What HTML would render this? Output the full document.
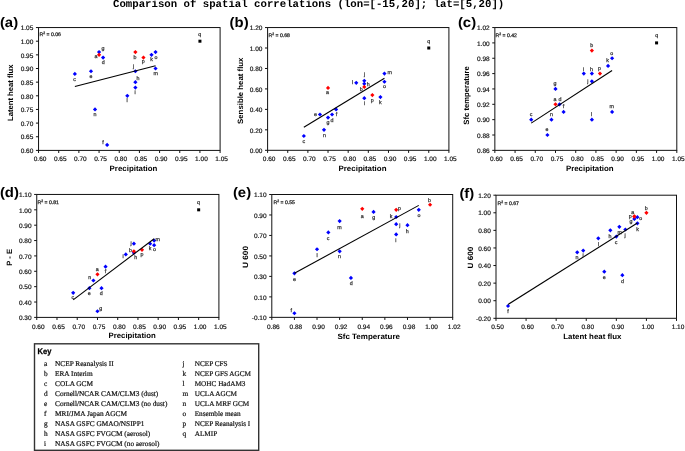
<!DOCTYPE html>
<html><head><meta charset="utf-8"><title>Comparison of spatial correlations</title>
<style>html,body{margin:0;padding:0;background:#fff;width:685px;height:451px;overflow:hidden;}
svg{display:block;font-family:"Liberation Sans", sans-serif;will-change:transform;text-rendering:geometricPrecision;}</style></head>
<body>
<svg width="685" height="451" viewBox="0 0 685 451">
<rect width="685" height="451" fill="#fff"/>
<text x="113" y="7.2" font-family='"Liberation Mono", monospace' font-weight="bold" font-size="10.7" fill="#000">Comparison of spatial correlations (lon=[-15,20]; lat=[5,20])</text>
<g><text transform="translate(-0.1,27.2) scale(1.08,1)" font-size="13.8" font-weight="bold" fill="#000" font-family='"Liberation Sans", sans-serif'>(a)</text><rect x="38.55" y="27.55" width="181.55" height="122.85" fill="none" stroke="#111" stroke-width="1"/><line x1="35.95" y1="150.40" x2="38.55" y2="150.40" stroke="#111" stroke-width="1"/><text x="33.35" y="153.10" text-anchor="end" font-size="6.5" fill="#111" stroke="#111" stroke-width="0.18" font-family='"Liberation Sans", sans-serif'>0.60</text><line x1="35.95" y1="136.75" x2="38.55" y2="136.75" stroke="#111" stroke-width="1"/><text x="33.35" y="139.45" text-anchor="end" font-size="6.5" fill="#111" stroke="#111" stroke-width="0.18" font-family='"Liberation Sans", sans-serif'>0.65</text><line x1="35.95" y1="123.10" x2="38.55" y2="123.10" stroke="#111" stroke-width="1"/><text x="33.35" y="125.80" text-anchor="end" font-size="6.5" fill="#111" stroke="#111" stroke-width="0.18" font-family='"Liberation Sans", sans-serif'>0.70</text><line x1="35.95" y1="109.45" x2="38.55" y2="109.45" stroke="#111" stroke-width="1"/><text x="33.35" y="112.15" text-anchor="end" font-size="6.5" fill="#111" stroke="#111" stroke-width="0.18" font-family='"Liberation Sans", sans-serif'>0.75</text><line x1="35.95" y1="95.80" x2="38.55" y2="95.80" stroke="#111" stroke-width="1"/><text x="33.35" y="98.50" text-anchor="end" font-size="6.5" fill="#111" stroke="#111" stroke-width="0.18" font-family='"Liberation Sans", sans-serif'>0.80</text><line x1="35.95" y1="82.15" x2="38.55" y2="82.15" stroke="#111" stroke-width="1"/><text x="33.35" y="84.85" text-anchor="end" font-size="6.5" fill="#111" stroke="#111" stroke-width="0.18" font-family='"Liberation Sans", sans-serif'>0.85</text><line x1="35.95" y1="68.50" x2="38.55" y2="68.50" stroke="#111" stroke-width="1"/><text x="33.35" y="71.20" text-anchor="end" font-size="6.5" fill="#111" stroke="#111" stroke-width="0.18" font-family='"Liberation Sans", sans-serif'>0.90</text><line x1="35.95" y1="54.85" x2="38.55" y2="54.85" stroke="#111" stroke-width="1"/><text x="33.35" y="57.55" text-anchor="end" font-size="6.5" fill="#111" stroke="#111" stroke-width="0.18" font-family='"Liberation Sans", sans-serif'>0.95</text><line x1="35.95" y1="41.20" x2="38.55" y2="41.20" stroke="#111" stroke-width="1"/><text x="33.35" y="43.90" text-anchor="end" font-size="6.5" fill="#111" stroke="#111" stroke-width="0.18" font-family='"Liberation Sans", sans-serif'>1.00</text><line x1="35.95" y1="27.55" x2="38.55" y2="27.55" stroke="#111" stroke-width="1"/><text x="33.35" y="30.25" text-anchor="end" font-size="6.5" fill="#111" stroke="#111" stroke-width="0.18" font-family='"Liberation Sans", sans-serif'>1.05</text><line x1="38.55" y1="150.4" x2="38.55" y2="153.00" stroke="#111" stroke-width="1"/><text x="40.05" y="161.00" text-anchor="middle" font-size="6.5" fill="#111" stroke="#111" stroke-width="0.18" font-family='"Liberation Sans", sans-serif'>0.60</text><line x1="58.72" y1="150.4" x2="58.72" y2="153.00" stroke="#111" stroke-width="1"/><text x="60.22" y="161.00" text-anchor="middle" font-size="6.5" fill="#111" stroke="#111" stroke-width="0.18" font-family='"Liberation Sans", sans-serif'>0.65</text><line x1="78.89" y1="150.4" x2="78.89" y2="153.00" stroke="#111" stroke-width="1"/><text x="80.39" y="161.00" text-anchor="middle" font-size="6.5" fill="#111" stroke="#111" stroke-width="0.18" font-family='"Liberation Sans", sans-serif'>0.70</text><line x1="99.07" y1="150.4" x2="99.07" y2="153.00" stroke="#111" stroke-width="1"/><text x="100.57" y="161.00" text-anchor="middle" font-size="6.5" fill="#111" stroke="#111" stroke-width="0.18" font-family='"Liberation Sans", sans-serif'>0.75</text><line x1="119.24" y1="150.4" x2="119.24" y2="153.00" stroke="#111" stroke-width="1"/><text x="120.74" y="161.00" text-anchor="middle" font-size="6.5" fill="#111" stroke="#111" stroke-width="0.18" font-family='"Liberation Sans", sans-serif'>0.80</text><line x1="139.41" y1="150.4" x2="139.41" y2="153.00" stroke="#111" stroke-width="1"/><text x="140.91" y="161.00" text-anchor="middle" font-size="6.5" fill="#111" stroke="#111" stroke-width="0.18" font-family='"Liberation Sans", sans-serif'>0.85</text><line x1="159.58" y1="150.4" x2="159.58" y2="153.00" stroke="#111" stroke-width="1"/><text x="161.08" y="161.00" text-anchor="middle" font-size="6.5" fill="#111" stroke="#111" stroke-width="0.18" font-family='"Liberation Sans", sans-serif'>0.90</text><line x1="179.76" y1="150.4" x2="179.76" y2="153.00" stroke="#111" stroke-width="1"/><text x="181.26" y="161.00" text-anchor="middle" font-size="6.5" fill="#111" stroke="#111" stroke-width="0.18" font-family='"Liberation Sans", sans-serif'>0.95</text><line x1="199.93" y1="150.4" x2="199.93" y2="153.00" stroke="#111" stroke-width="1"/><text x="201.43" y="161.00" text-anchor="middle" font-size="6.5" fill="#111" stroke="#111" stroke-width="0.18" font-family='"Liberation Sans", sans-serif'>1.00</text><line x1="220.10" y1="150.4" x2="220.10" y2="153.00" stroke="#111" stroke-width="1"/><text x="221.60" y="161.00" text-anchor="middle" font-size="6.5" fill="#111" stroke="#111" stroke-width="0.18" font-family='"Liberation Sans", sans-serif'>1.05</text><text x="109.60" y="170.8" textLength="47.8" lengthAdjust="spacingAndGlyphs" font-size="7.7" font-weight="bold" fill="#000" font-family='"Liberation Sans", sans-serif'>Precipitation</text><text transform="translate(13.0,92.75) rotate(-90)" x="-28.20" textLength="56.4" lengthAdjust="spacingAndGlyphs" font-size="7.7" font-weight="bold" fill="#000" font-family='"Liberation Sans", sans-serif'>Latent heat flux</text><text x="39.60" y="36.00" font-size="5.1" fill="#222" stroke="#222" stroke-width="0.25" font-family='"Liberation Sans", sans-serif'>R<tspan font-size="3.4" dy="-1.8">2</tspan><tspan dy="1.8"> = 0.06</tspan></text><path d="M74.86 71.86L76.96 73.96L74.86 76.06L72.76 73.96Z" fill="#0000ff"/><path d="M91.00 69.13L93.10 71.23L91.00 73.33L88.90 71.23Z" fill="#0000ff"/><path d="M99.07 50.02L101.17 52.12L99.07 54.22L96.97 52.12Z" fill="#0000ff"/><path d="M103.10 55.48L105.20 57.58L103.10 59.68L101.00 57.58Z" fill="#0000ff"/><path d="M95.03 107.35L97.13 109.45L95.03 111.55L92.93 109.45Z" fill="#0000ff"/><path d="M107.14 142.84L109.24 144.94L107.14 147.04L105.04 144.94Z" fill="#0000ff"/><path d="M127.31 93.70L129.41 95.80L127.31 97.90L125.21 95.80Z" fill="#0000ff"/><path d="M135.38 85.51L137.48 87.61L135.38 89.71L133.28 87.61Z" fill="#0000ff"/><path d="M135.38 80.05L137.48 82.15L135.38 84.25L133.28 82.15Z" fill="#0000ff"/><path d="M135.38 69.13L137.48 71.23L135.38 73.33L133.28 71.23Z" fill="#0000ff"/><path d="M151.51 52.75L153.61 54.85L151.51 56.95L149.41 54.85Z" fill="#0000ff"/><path d="M155.55 50.02L157.65 52.12L155.55 54.22L153.45 52.12Z" fill="#0000ff"/><path d="M155.55 66.40L157.65 68.50L155.55 70.60L153.45 68.50Z" fill="#0000ff"/><path d="M99.07 52.75L101.17 54.85L99.07 56.95L96.97 54.85Z" fill="#ff0000"/><path d="M135.38 50.02L137.48 52.12L135.38 54.22L133.28 52.12Z" fill="#ff0000"/><path d="M143.45 55.48L145.55 57.58L143.45 59.68L141.35 57.58Z" fill="#ff0000"/><rect x="198.43" y="39.70" width="3" height="3" fill="#000"/><line x1="74.86" y1="86.52" x2="155.55" y2="65.77" stroke="#000" stroke-width="1.1"/><text x="74.60" y="80.60" text-anchor="middle" font-size="5.3" fill="#333" stroke="#333" stroke-width="0.25" font-family='"Liberation Sans", sans-serif'>c</text><text x="90.90" y="77.50" text-anchor="middle" font-size="5.3" fill="#333" stroke="#333" stroke-width="0.25" font-family='"Liberation Sans", sans-serif'>e</text><text x="102.90" y="50.20" text-anchor="middle" font-size="5.3" fill="#333" stroke="#333" stroke-width="0.25" font-family='"Liberation Sans", sans-serif'>g</text><text x="103.30" y="64.10" text-anchor="middle" font-size="5.3" fill="#333" stroke="#333" stroke-width="0.25" font-family='"Liberation Sans", sans-serif'>d</text><text x="95.00" y="115.80" text-anchor="middle" font-size="5.3" fill="#333" stroke="#333" stroke-width="0.25" font-family='"Liberation Sans", sans-serif'>n</text><text x="102.90" y="144.40" text-anchor="middle" font-size="5.3" fill="#333" stroke="#333" stroke-width="0.25" font-family='"Liberation Sans", sans-serif'>f</text><text x="127.20" y="102.30" text-anchor="middle" font-size="5.3" fill="#333" stroke="#333" stroke-width="0.25" font-family='"Liberation Sans", sans-serif'>l</text><text x="135.10" y="93.90" text-anchor="middle" font-size="5.3" fill="#333" stroke="#333" stroke-width="0.25" font-family='"Liberation Sans", sans-serif'>i</text><text x="137.90" y="80.20" text-anchor="middle" font-size="5.3" fill="#333" stroke="#333" stroke-width="0.25" font-family='"Liberation Sans", sans-serif'>h</text><text x="133.50" y="67.80" text-anchor="middle" font-size="5.3" fill="#333" stroke="#333" stroke-width="0.25" font-family='"Liberation Sans", sans-serif'>j</text><text x="151.50" y="61.00" text-anchor="middle" font-size="5.3" fill="#333" stroke="#333" stroke-width="0.25" font-family='"Liberation Sans", sans-serif'>k</text><text x="156.00" y="58.80" text-anchor="middle" font-size="5.3" fill="#333" stroke="#333" stroke-width="0.25" font-family='"Liberation Sans", sans-serif'>o</text><text x="155.80" y="74.80" text-anchor="middle" font-size="5.3" fill="#333" stroke="#333" stroke-width="0.25" font-family='"Liberation Sans", sans-serif'>m</text><text x="96.00" y="57.60" text-anchor="middle" font-size="5.3" fill="#333" stroke="#333" stroke-width="0.25" font-family='"Liberation Sans", sans-serif'>a</text><text x="135.10" y="59.30" text-anchor="middle" font-size="5.3" fill="#333" stroke="#333" stroke-width="0.25" font-family='"Liberation Sans", sans-serif'>b</text><text x="143.30" y="62.90" text-anchor="middle" font-size="5.3" fill="#333" stroke="#333" stroke-width="0.25" font-family='"Liberation Sans", sans-serif'>p</text><text x="199.80" y="35.60" text-anchor="middle" font-size="5.3" fill="#333" stroke="#333" stroke-width="0.25" font-family='"Liberation Sans", sans-serif'>q</text></g>
<g><text transform="translate(229.6,27.2) scale(1.08,1)" font-size="13.8" font-weight="bold" fill="#000" font-family='"Liberation Sans", sans-serif'>(b)</text><rect x="267.6" y="27.55" width="181.30" height="122.75" fill="none" stroke="#111" stroke-width="1"/><line x1="265.00" y1="150.30" x2="267.6" y2="150.30" stroke="#111" stroke-width="1"/><text x="262.40" y="153.00" text-anchor="end" font-size="6.5" fill="#111" stroke="#111" stroke-width="0.18" font-family='"Liberation Sans", sans-serif'>0.00</text><line x1="265.00" y1="129.84" x2="267.6" y2="129.84" stroke="#111" stroke-width="1"/><text x="262.40" y="132.54" text-anchor="end" font-size="6.5" fill="#111" stroke="#111" stroke-width="0.18" font-family='"Liberation Sans", sans-serif'>0.20</text><line x1="265.00" y1="109.38" x2="267.6" y2="109.38" stroke="#111" stroke-width="1"/><text x="262.40" y="112.08" text-anchor="end" font-size="6.5" fill="#111" stroke="#111" stroke-width="0.18" font-family='"Liberation Sans", sans-serif'>0.40</text><line x1="265.00" y1="88.92" x2="267.6" y2="88.92" stroke="#111" stroke-width="1"/><text x="262.40" y="91.62" text-anchor="end" font-size="6.5" fill="#111" stroke="#111" stroke-width="0.18" font-family='"Liberation Sans", sans-serif'>0.60</text><line x1="265.00" y1="68.47" x2="267.6" y2="68.47" stroke="#111" stroke-width="1"/><text x="262.40" y="71.17" text-anchor="end" font-size="6.5" fill="#111" stroke="#111" stroke-width="0.18" font-family='"Liberation Sans", sans-serif'>0.80</text><line x1="265.00" y1="48.01" x2="267.6" y2="48.01" stroke="#111" stroke-width="1"/><text x="262.40" y="50.71" text-anchor="end" font-size="6.5" fill="#111" stroke="#111" stroke-width="0.18" font-family='"Liberation Sans", sans-serif'>1.00</text><line x1="265.00" y1="27.55" x2="267.6" y2="27.55" stroke="#111" stroke-width="1"/><text x="262.40" y="30.25" text-anchor="end" font-size="6.5" fill="#111" stroke="#111" stroke-width="0.18" font-family='"Liberation Sans", sans-serif'>1.20</text><line x1="267.60" y1="150.3" x2="267.60" y2="152.90" stroke="#111" stroke-width="1"/><text x="269.10" y="161.00" text-anchor="middle" font-size="6.5" fill="#111" stroke="#111" stroke-width="0.18" font-family='"Liberation Sans", sans-serif'>0.60</text><line x1="287.74" y1="150.3" x2="287.74" y2="152.90" stroke="#111" stroke-width="1"/><text x="289.24" y="161.00" text-anchor="middle" font-size="6.5" fill="#111" stroke="#111" stroke-width="0.18" font-family='"Liberation Sans", sans-serif'>0.65</text><line x1="307.89" y1="150.3" x2="307.89" y2="152.90" stroke="#111" stroke-width="1"/><text x="309.39" y="161.00" text-anchor="middle" font-size="6.5" fill="#111" stroke="#111" stroke-width="0.18" font-family='"Liberation Sans", sans-serif'>0.70</text><line x1="328.03" y1="150.3" x2="328.03" y2="152.90" stroke="#111" stroke-width="1"/><text x="329.53" y="161.00" text-anchor="middle" font-size="6.5" fill="#111" stroke="#111" stroke-width="0.18" font-family='"Liberation Sans", sans-serif'>0.75</text><line x1="348.18" y1="150.3" x2="348.18" y2="152.90" stroke="#111" stroke-width="1"/><text x="349.68" y="161.00" text-anchor="middle" font-size="6.5" fill="#111" stroke="#111" stroke-width="0.18" font-family='"Liberation Sans", sans-serif'>0.80</text><line x1="368.32" y1="150.3" x2="368.32" y2="152.90" stroke="#111" stroke-width="1"/><text x="369.82" y="161.00" text-anchor="middle" font-size="6.5" fill="#111" stroke="#111" stroke-width="0.18" font-family='"Liberation Sans", sans-serif'>0.85</text><line x1="388.47" y1="150.3" x2="388.47" y2="152.90" stroke="#111" stroke-width="1"/><text x="389.97" y="161.00" text-anchor="middle" font-size="6.5" fill="#111" stroke="#111" stroke-width="0.18" font-family='"Liberation Sans", sans-serif'>0.90</text><line x1="408.61" y1="150.3" x2="408.61" y2="152.90" stroke="#111" stroke-width="1"/><text x="410.11" y="161.00" text-anchor="middle" font-size="6.5" fill="#111" stroke="#111" stroke-width="0.18" font-family='"Liberation Sans", sans-serif'>0.95</text><line x1="428.76" y1="150.3" x2="428.76" y2="152.90" stroke="#111" stroke-width="1"/><text x="430.26" y="161.00" text-anchor="middle" font-size="6.5" fill="#111" stroke="#111" stroke-width="0.18" font-family='"Liberation Sans", sans-serif'>1.00</text><line x1="448.90" y1="150.3" x2="448.90" y2="152.90" stroke="#111" stroke-width="1"/><text x="450.40" y="161.00" text-anchor="middle" font-size="6.5" fill="#111" stroke="#111" stroke-width="0.18" font-family='"Liberation Sans", sans-serif'>1.05</text><text x="338.50" y="170.8" textLength="48.0" lengthAdjust="spacingAndGlyphs" font-size="7.7" font-weight="bold" fill="#000" font-family='"Liberation Sans", sans-serif'>Precipitation</text><text transform="translate(242.5,90.75) rotate(-90)" x="-33.20" textLength="66.4" lengthAdjust="spacingAndGlyphs" font-size="7.7" font-weight="bold" fill="#000" font-family='"Liberation Sans", sans-serif'>Sensible heat flux</text><text x="268.60" y="36.60" font-size="5.1" fill="#222" stroke="#222" stroke-width="0.25" font-family='"Liberation Sans", sans-serif'>R<tspan font-size="3.4" dy="-1.8">2</tspan><tspan dy="1.8"> = 0.68</tspan></text><path d="M303.86 133.88L305.96 135.98L303.86 138.08L301.76 135.98Z" fill="#0000ff"/><path d="M319.98 112.40L322.08 114.50L319.98 116.60L317.88 114.50Z" fill="#0000ff"/><path d="M328.03 115.47L330.13 117.57L328.03 119.67L325.93 117.57Z" fill="#0000ff"/><path d="M332.06 112.40L334.16 114.50L332.06 116.60L329.96 114.50Z" fill="#0000ff"/><path d="M324.00 127.74L326.10 129.84L324.00 131.94L321.90 129.84Z" fill="#0000ff"/><path d="M336.09 107.28L338.19 109.38L336.09 111.48L333.99 109.38Z" fill="#0000ff"/><path d="M356.24 80.69L358.34 82.79L356.24 84.89L354.14 82.79Z" fill="#0000ff"/><path d="M364.29 96.03L366.39 98.13L364.29 100.23L362.19 98.13Z" fill="#0000ff"/><path d="M364.29 81.71L366.39 83.81L364.29 85.91L362.19 83.81Z" fill="#0000ff"/><path d="M364.29 78.64L366.39 80.74L364.29 82.84L362.19 80.74Z" fill="#0000ff"/><path d="M380.41 95.01L382.51 97.11L380.41 99.21L378.31 97.11Z" fill="#0000ff"/><path d="M384.44 79.66L386.54 81.76L384.44 83.86L382.34 81.76Z" fill="#0000ff"/><path d="M384.44 71.48L386.54 73.58L384.44 75.68L382.34 73.58Z" fill="#0000ff"/><path d="M328.03 85.80L330.13 87.90L328.03 90.00L325.93 87.90Z" fill="#ff0000"/><path d="M364.29 84.78L366.39 86.88L364.29 88.98L362.19 86.88Z" fill="#ff0000"/><path d="M372.35 92.96L374.45 95.06L372.35 97.16L370.25 95.06Z" fill="#ff0000"/><rect x="427.26" y="46.51" width="3" height="3" fill="#000"/><line x1="303.86" y1="127.18" x2="384.44" y2="78.18" stroke="#000" stroke-width="1.1"/><text x="303.80" y="142.50" text-anchor="middle" font-size="5.3" fill="#333" stroke="#333" stroke-width="0.25" font-family='"Liberation Sans", sans-serif'>c</text><text x="315.50" y="115.50" text-anchor="middle" font-size="5.3" fill="#333" stroke="#333" stroke-width="0.25" font-family='"Liberation Sans", sans-serif'>e</text><text x="327.90" y="124.10" text-anchor="middle" font-size="5.3" fill="#333" stroke="#333" stroke-width="0.25" font-family='"Liberation Sans", sans-serif'>g</text><text x="332.10" y="121.80" text-anchor="middle" font-size="5.3" fill="#333" stroke="#333" stroke-width="0.25" font-family='"Liberation Sans", sans-serif'>d</text><text x="324.50" y="136.60" text-anchor="middle" font-size="5.3" fill="#333" stroke="#333" stroke-width="0.25" font-family='"Liberation Sans", sans-serif'>n</text><text x="336.60" y="116.00" text-anchor="middle" font-size="5.3" fill="#333" stroke="#333" stroke-width="0.25" font-family='"Liberation Sans", sans-serif'>f</text><text x="352.60" y="84.40" text-anchor="middle" font-size="5.3" fill="#333" stroke="#333" stroke-width="0.25" font-family='"Liberation Sans", sans-serif'>l</text><text x="364.50" y="104.70" text-anchor="middle" font-size="5.3" fill="#333" stroke="#333" stroke-width="0.25" font-family='"Liberation Sans", sans-serif'>i</text><text x="368.30" y="85.50" text-anchor="middle" font-size="5.3" fill="#333" stroke="#333" stroke-width="0.25" font-family='"Liberation Sans", sans-serif'>h</text><text x="364.50" y="75.70" text-anchor="middle" font-size="5.3" fill="#333" stroke="#333" stroke-width="0.25" font-family='"Liberation Sans", sans-serif'>j</text><text x="380.40" y="103.70" text-anchor="middle" font-size="5.3" fill="#333" stroke="#333" stroke-width="0.25" font-family='"Liberation Sans", sans-serif'>k</text><text x="384.50" y="88.10" text-anchor="middle" font-size="5.3" fill="#333" stroke="#333" stroke-width="0.25" font-family='"Liberation Sans", sans-serif'>o</text><text x="389.60" y="73.60" text-anchor="middle" font-size="5.3" fill="#333" stroke="#333" stroke-width="0.25" font-family='"Liberation Sans", sans-serif'>m</text><text x="327.60" y="93.70" text-anchor="middle" font-size="5.3" fill="#333" stroke="#333" stroke-width="0.25" font-family='"Liberation Sans", sans-serif'>a</text><text x="361.30" y="91.40" text-anchor="middle" font-size="5.3" fill="#333" stroke="#333" stroke-width="0.25" font-family='"Liberation Sans", sans-serif'>b</text><text x="372.20" y="101.70" text-anchor="middle" font-size="5.3" fill="#333" stroke="#333" stroke-width="0.25" font-family='"Liberation Sans", sans-serif'>p</text><text x="428.70" y="42.70" text-anchor="middle" font-size="5.3" fill="#333" stroke="#333" stroke-width="0.25" font-family='"Liberation Sans", sans-serif'>q</text></g>
<g><text transform="translate(457.9,27.2) scale(1.08,1)" font-size="13.8" font-weight="bold" fill="#000" font-family='"Liberation Sans", sans-serif'>(c)</text><rect x="494.85" y="27.55" width="181.95" height="122.80" fill="none" stroke="#111" stroke-width="1"/><line x1="492.25" y1="150.35" x2="494.85" y2="150.35" stroke="#111" stroke-width="1"/><text x="489.65" y="153.05" text-anchor="end" font-size="6.5" fill="#111" stroke="#111" stroke-width="0.18" font-family='"Liberation Sans", sans-serif'>0.86</text><line x1="492.25" y1="135.00" x2="494.85" y2="135.00" stroke="#111" stroke-width="1"/><text x="489.65" y="137.70" text-anchor="end" font-size="6.5" fill="#111" stroke="#111" stroke-width="0.18" font-family='"Liberation Sans", sans-serif'>0.88</text><line x1="492.25" y1="119.65" x2="494.85" y2="119.65" stroke="#111" stroke-width="1"/><text x="489.65" y="122.35" text-anchor="end" font-size="6.5" fill="#111" stroke="#111" stroke-width="0.18" font-family='"Liberation Sans", sans-serif'>0.90</text><line x1="492.25" y1="104.30" x2="494.85" y2="104.30" stroke="#111" stroke-width="1"/><text x="489.65" y="107.00" text-anchor="end" font-size="6.5" fill="#111" stroke="#111" stroke-width="0.18" font-family='"Liberation Sans", sans-serif'>0.92</text><line x1="492.25" y1="88.95" x2="494.85" y2="88.95" stroke="#111" stroke-width="1"/><text x="489.65" y="91.65" text-anchor="end" font-size="6.5" fill="#111" stroke="#111" stroke-width="0.18" font-family='"Liberation Sans", sans-serif'>0.94</text><line x1="492.25" y1="73.60" x2="494.85" y2="73.60" stroke="#111" stroke-width="1"/><text x="489.65" y="76.30" text-anchor="end" font-size="6.5" fill="#111" stroke="#111" stroke-width="0.18" font-family='"Liberation Sans", sans-serif'>0.96</text><line x1="492.25" y1="58.25" x2="494.85" y2="58.25" stroke="#111" stroke-width="1"/><text x="489.65" y="60.95" text-anchor="end" font-size="6.5" fill="#111" stroke="#111" stroke-width="0.18" font-family='"Liberation Sans", sans-serif'>0.98</text><line x1="492.25" y1="42.90" x2="494.85" y2="42.90" stroke="#111" stroke-width="1"/><text x="489.65" y="45.60" text-anchor="end" font-size="6.5" fill="#111" stroke="#111" stroke-width="0.18" font-family='"Liberation Sans", sans-serif'>1.00</text><line x1="492.25" y1="27.55" x2="494.85" y2="27.55" stroke="#111" stroke-width="1"/><text x="489.65" y="30.25" text-anchor="end" font-size="6.5" fill="#111" stroke="#111" stroke-width="0.18" font-family='"Liberation Sans", sans-serif'>1.02</text><line x1="494.85" y1="150.35" x2="494.85" y2="152.95" stroke="#111" stroke-width="1"/><text x="496.35" y="161.00" text-anchor="middle" font-size="6.5" fill="#111" stroke="#111" stroke-width="0.18" font-family='"Liberation Sans", sans-serif'>0.60</text><line x1="515.07" y1="150.35" x2="515.07" y2="152.95" stroke="#111" stroke-width="1"/><text x="516.57" y="161.00" text-anchor="middle" font-size="6.5" fill="#111" stroke="#111" stroke-width="0.18" font-family='"Liberation Sans", sans-serif'>0.65</text><line x1="535.28" y1="150.35" x2="535.28" y2="152.95" stroke="#111" stroke-width="1"/><text x="536.78" y="161.00" text-anchor="middle" font-size="6.5" fill="#111" stroke="#111" stroke-width="0.18" font-family='"Liberation Sans", sans-serif'>0.70</text><line x1="555.50" y1="150.35" x2="555.50" y2="152.95" stroke="#111" stroke-width="1"/><text x="557.00" y="161.00" text-anchor="middle" font-size="6.5" fill="#111" stroke="#111" stroke-width="0.18" font-family='"Liberation Sans", sans-serif'>0.75</text><line x1="575.72" y1="150.35" x2="575.72" y2="152.95" stroke="#111" stroke-width="1"/><text x="577.22" y="161.00" text-anchor="middle" font-size="6.5" fill="#111" stroke="#111" stroke-width="0.18" font-family='"Liberation Sans", sans-serif'>0.80</text><line x1="595.93" y1="150.35" x2="595.93" y2="152.95" stroke="#111" stroke-width="1"/><text x="597.43" y="161.00" text-anchor="middle" font-size="6.5" fill="#111" stroke="#111" stroke-width="0.18" font-family='"Liberation Sans", sans-serif'>0.85</text><line x1="616.15" y1="150.35" x2="616.15" y2="152.95" stroke="#111" stroke-width="1"/><text x="617.65" y="161.00" text-anchor="middle" font-size="6.5" fill="#111" stroke="#111" stroke-width="0.18" font-family='"Liberation Sans", sans-serif'>0.90</text><line x1="636.37" y1="150.35" x2="636.37" y2="152.95" stroke="#111" stroke-width="1"/><text x="637.87" y="161.00" text-anchor="middle" font-size="6.5" fill="#111" stroke="#111" stroke-width="0.18" font-family='"Liberation Sans", sans-serif'>0.95</text><line x1="656.58" y1="150.35" x2="656.58" y2="152.95" stroke="#111" stroke-width="1"/><text x="658.08" y="161.00" text-anchor="middle" font-size="6.5" fill="#111" stroke="#111" stroke-width="0.18" font-family='"Liberation Sans", sans-serif'>1.00</text><line x1="676.80" y1="150.35" x2="676.80" y2="152.95" stroke="#111" stroke-width="1"/><text x="678.30" y="161.00" text-anchor="middle" font-size="6.5" fill="#111" stroke="#111" stroke-width="0.18" font-family='"Liberation Sans", sans-serif'>1.05</text><text x="565.90" y="171.0" textLength="47.8" lengthAdjust="spacingAndGlyphs" font-size="7.7" font-weight="bold" fill="#000" font-family='"Liberation Sans", sans-serif'>Precipitation</text><text transform="translate(469.2,95.5) rotate(-90)" x="-29.20" textLength="58.4" lengthAdjust="spacingAndGlyphs" font-size="7.7" font-weight="bold" fill="#000" font-family='"Liberation Sans", sans-serif'>Sfc temperature</text><text x="495.50" y="36.50" font-size="5.1" fill="#222" stroke="#222" stroke-width="0.25" font-family='"Liberation Sans", sans-serif'>R<tspan font-size="3.4" dy="-1.8">2</tspan><tspan dy="1.8"> = 0.42</tspan></text><path d="M531.24 117.55L533.34 119.65L531.24 121.75L529.14 119.65Z" fill="#0000ff"/><path d="M547.41 132.90L549.51 135.00L547.41 137.10L545.31 135.00Z" fill="#0000ff"/><path d="M555.50 86.85L557.60 88.95L555.50 91.05L553.40 88.95Z" fill="#0000ff"/><path d="M559.54 102.20L561.64 104.30L559.54 106.40L557.44 104.30Z" fill="#0000ff"/><path d="M551.46 117.55L553.56 119.65L551.46 121.75L549.36 119.65Z" fill="#0000ff"/><path d="M563.59 109.87L565.69 111.97L563.59 114.07L561.49 111.97Z" fill="#0000ff"/><path d="M591.89 117.55L593.99 119.65L591.89 121.75L589.79 119.65Z" fill="#0000ff"/><path d="M583.80 71.50L585.90 73.60L583.80 75.70L581.70 73.60Z" fill="#0000ff"/><path d="M591.89 71.50L593.99 73.60L591.89 75.70L589.79 73.60Z" fill="#0000ff"/><path d="M591.89 79.18L593.99 81.28L591.89 83.38L589.79 81.28Z" fill="#0000ff"/><path d="M608.06 63.83L610.16 65.93L608.06 68.03L605.96 65.93Z" fill="#0000ff"/><path d="M612.11 56.15L614.21 58.25L612.11 60.35L610.01 58.25Z" fill="#0000ff"/><path d="M612.11 109.87L614.21 111.97L612.11 114.07L610.01 111.97Z" fill="#0000ff"/><path d="M555.50 102.20L557.60 104.30L555.50 106.40L553.40 104.30Z" fill="#ff0000"/><path d="M591.89 48.48L593.99 50.58L591.89 52.68L589.79 50.58Z" fill="#ff0000"/><path d="M599.98 71.50L602.08 73.60L599.98 75.70L597.88 73.60Z" fill="#ff0000"/><rect x="655.08" y="41.40" width="3" height="3" fill="#000"/><line x1="531.24" y1="123.10" x2="612.11" y2="70.53" stroke="#000" stroke-width="1.1"/><text x="531.00" y="115.80" text-anchor="middle" font-size="5.3" fill="#333" stroke="#333" stroke-width="0.25" font-family='"Liberation Sans", sans-serif'>c</text><text x="547.10" y="131.30" text-anchor="middle" font-size="5.3" fill="#333" stroke="#333" stroke-width="0.25" font-family='"Liberation Sans", sans-serif'>e</text><text x="555.10" y="84.80" text-anchor="middle" font-size="5.3" fill="#333" stroke="#333" stroke-width="0.25" font-family='"Liberation Sans", sans-serif'>g</text><text x="560.00" y="101.20" text-anchor="middle" font-size="5.3" fill="#333" stroke="#333" stroke-width="0.25" font-family='"Liberation Sans", sans-serif'>d</text><text x="551.40" y="115.80" text-anchor="middle" font-size="5.3" fill="#333" stroke="#333" stroke-width="0.25" font-family='"Liberation Sans", sans-serif'>n</text><text x="563.50" y="108.30" text-anchor="middle" font-size="5.3" fill="#333" stroke="#333" stroke-width="0.25" font-family='"Liberation Sans", sans-serif'>f</text><text x="591.50" y="116.30" text-anchor="middle" font-size="5.3" fill="#333" stroke="#333" stroke-width="0.25" font-family='"Liberation Sans", sans-serif'>l</text><text x="583.50" y="70.60" text-anchor="middle" font-size="5.3" fill="#333" stroke="#333" stroke-width="0.25" font-family='"Liberation Sans", sans-serif'>i</text><text x="591.50" y="70.60" text-anchor="middle" font-size="5.3" fill="#333" stroke="#333" stroke-width="0.25" font-family='"Liberation Sans", sans-serif'>h</text><text x="587.90" y="82.60" text-anchor="middle" font-size="5.3" fill="#333" stroke="#333" stroke-width="0.25" font-family='"Liberation Sans", sans-serif'>j</text><text x="607.70" y="62.40" text-anchor="middle" font-size="5.3" fill="#333" stroke="#333" stroke-width="0.25" font-family='"Liberation Sans", sans-serif'>k</text><text x="611.70" y="54.60" text-anchor="middle" font-size="5.3" fill="#333" stroke="#333" stroke-width="0.25" font-family='"Liberation Sans", sans-serif'>o</text><text x="611.70" y="108.20" text-anchor="middle" font-size="5.3" fill="#333" stroke="#333" stroke-width="0.25" font-family='"Liberation Sans", sans-serif'>m</text><text x="555.10" y="100.70" text-anchor="middle" font-size="5.3" fill="#333" stroke="#333" stroke-width="0.25" font-family='"Liberation Sans", sans-serif'>a</text><text x="591.70" y="47.30" text-anchor="middle" font-size="5.3" fill="#333" stroke="#333" stroke-width="0.25" font-family='"Liberation Sans", sans-serif'>b</text><text x="599.50" y="69.60" text-anchor="middle" font-size="5.3" fill="#333" stroke="#333" stroke-width="0.25" font-family='"Liberation Sans", sans-serif'>p</text><text x="656.80" y="37.00" text-anchor="middle" font-size="5.3" fill="#333" stroke="#333" stroke-width="0.25" font-family='"Liberation Sans", sans-serif'>q</text></g>
<g><text transform="translate(-0.1,197.0) scale(1.08,1)" font-size="13.8" font-weight="bold" fill="#000" font-family='"Liberation Sans", sans-serif'>(d)</text><rect x="36.75" y="194.45" width="182.15" height="122.95" fill="none" stroke="#111" stroke-width="1"/><line x1="34.15" y1="317.40" x2="36.75" y2="317.40" stroke="#111" stroke-width="1"/><text x="31.55" y="320.10" text-anchor="end" font-size="6.5" fill="#111" stroke="#111" stroke-width="0.18" font-family='"Liberation Sans", sans-serif'>0.30</text><line x1="34.15" y1="302.03" x2="36.75" y2="302.03" stroke="#111" stroke-width="1"/><text x="31.55" y="304.73" text-anchor="end" font-size="6.5" fill="#111" stroke="#111" stroke-width="0.18" font-family='"Liberation Sans", sans-serif'>0.40</text><line x1="34.15" y1="286.66" x2="36.75" y2="286.66" stroke="#111" stroke-width="1"/><text x="31.55" y="289.36" text-anchor="end" font-size="6.5" fill="#111" stroke="#111" stroke-width="0.18" font-family='"Liberation Sans", sans-serif'>0.50</text><line x1="34.15" y1="271.29" x2="36.75" y2="271.29" stroke="#111" stroke-width="1"/><text x="31.55" y="273.99" text-anchor="end" font-size="6.5" fill="#111" stroke="#111" stroke-width="0.18" font-family='"Liberation Sans", sans-serif'>0.60</text><line x1="34.15" y1="255.92" x2="36.75" y2="255.92" stroke="#111" stroke-width="1"/><text x="31.55" y="258.62" text-anchor="end" font-size="6.5" fill="#111" stroke="#111" stroke-width="0.18" font-family='"Liberation Sans", sans-serif'>0.70</text><line x1="34.15" y1="240.56" x2="36.75" y2="240.56" stroke="#111" stroke-width="1"/><text x="31.55" y="243.26" text-anchor="end" font-size="6.5" fill="#111" stroke="#111" stroke-width="0.18" font-family='"Liberation Sans", sans-serif'>0.80</text><line x1="34.15" y1="225.19" x2="36.75" y2="225.19" stroke="#111" stroke-width="1"/><text x="31.55" y="227.89" text-anchor="end" font-size="6.5" fill="#111" stroke="#111" stroke-width="0.18" font-family='"Liberation Sans", sans-serif'>0.90</text><line x1="34.15" y1="209.82" x2="36.75" y2="209.82" stroke="#111" stroke-width="1"/><text x="31.55" y="212.52" text-anchor="end" font-size="6.5" fill="#111" stroke="#111" stroke-width="0.18" font-family='"Liberation Sans", sans-serif'>1.00</text><line x1="34.15" y1="194.45" x2="36.75" y2="194.45" stroke="#111" stroke-width="1"/><text x="31.55" y="197.15" text-anchor="end" font-size="6.5" fill="#111" stroke="#111" stroke-width="0.18" font-family='"Liberation Sans", sans-serif'>1.10</text><line x1="36.75" y1="317.4" x2="36.75" y2="320.00" stroke="#111" stroke-width="1"/><text x="38.25" y="329.00" text-anchor="middle" font-size="6.5" fill="#111" stroke="#111" stroke-width="0.18" font-family='"Liberation Sans", sans-serif'>0.60</text><line x1="56.99" y1="317.4" x2="56.99" y2="320.00" stroke="#111" stroke-width="1"/><text x="58.49" y="329.00" text-anchor="middle" font-size="6.5" fill="#111" stroke="#111" stroke-width="0.18" font-family='"Liberation Sans", sans-serif'>0.65</text><line x1="77.23" y1="317.4" x2="77.23" y2="320.00" stroke="#111" stroke-width="1"/><text x="78.73" y="329.00" text-anchor="middle" font-size="6.5" fill="#111" stroke="#111" stroke-width="0.18" font-family='"Liberation Sans", sans-serif'>0.70</text><line x1="97.47" y1="317.4" x2="97.47" y2="320.00" stroke="#111" stroke-width="1"/><text x="98.97" y="329.00" text-anchor="middle" font-size="6.5" fill="#111" stroke="#111" stroke-width="0.18" font-family='"Liberation Sans", sans-serif'>0.75</text><line x1="117.71" y1="317.4" x2="117.71" y2="320.00" stroke="#111" stroke-width="1"/><text x="119.21" y="329.00" text-anchor="middle" font-size="6.5" fill="#111" stroke="#111" stroke-width="0.18" font-family='"Liberation Sans", sans-serif'>0.80</text><line x1="137.94" y1="317.4" x2="137.94" y2="320.00" stroke="#111" stroke-width="1"/><text x="139.44" y="329.00" text-anchor="middle" font-size="6.5" fill="#111" stroke="#111" stroke-width="0.18" font-family='"Liberation Sans", sans-serif'>0.85</text><line x1="158.18" y1="317.4" x2="158.18" y2="320.00" stroke="#111" stroke-width="1"/><text x="159.68" y="329.00" text-anchor="middle" font-size="6.5" fill="#111" stroke="#111" stroke-width="0.18" font-family='"Liberation Sans", sans-serif'>0.90</text><line x1="178.42" y1="317.4" x2="178.42" y2="320.00" stroke="#111" stroke-width="1"/><text x="179.92" y="329.00" text-anchor="middle" font-size="6.5" fill="#111" stroke="#111" stroke-width="0.18" font-family='"Liberation Sans", sans-serif'>0.95</text><line x1="198.66" y1="317.4" x2="198.66" y2="320.00" stroke="#111" stroke-width="1"/><text x="200.16" y="329.00" text-anchor="middle" font-size="6.5" fill="#111" stroke="#111" stroke-width="0.18" font-family='"Liberation Sans", sans-serif'>1.00</text><line x1="218.90" y1="317.4" x2="218.90" y2="320.00" stroke="#111" stroke-width="1"/><text x="220.40" y="329.00" text-anchor="middle" font-size="6.5" fill="#111" stroke="#111" stroke-width="0.18" font-family='"Liberation Sans", sans-serif'>1.05</text><text x="108.50" y="337.6" textLength="47.2" lengthAdjust="spacingAndGlyphs" font-size="7.7" font-weight="bold" fill="#000" font-family='"Liberation Sans", sans-serif'>Precipitation</text><text transform="translate(11.8,257.3) rotate(-90)" x="-8.45" textLength="16.9" lengthAdjust="spacingAndGlyphs" font-size="7.7" font-weight="bold" fill="#000" font-family='"Liberation Sans", sans-serif'>P - E</text><text x="37.50" y="204.00" font-size="5.1" fill="#222" stroke="#222" stroke-width="0.25" font-family='"Liberation Sans", sans-serif'>R<tspan font-size="3.4" dy="-1.8">2</tspan><tspan dy="1.8"> = 0.81</tspan></text><path d="M73.18 290.71L75.28 292.81L73.18 294.91L71.08 292.81Z" fill="#0000ff"/><path d="M89.37 286.10L91.47 288.20L89.37 290.30L87.27 288.20Z" fill="#0000ff"/><path d="M93.42 278.41L95.52 280.51L93.42 282.62L91.32 280.51Z" fill="#0000ff"/><path d="M105.56 264.58L107.66 266.68L105.56 268.78L103.46 266.68Z" fill="#0000ff"/><path d="M101.51 286.10L103.61 288.20L101.51 290.30L99.41 288.20Z" fill="#0000ff"/><path d="M97.47 309.15L99.57 311.25L97.47 313.35L95.37 311.25Z" fill="#0000ff"/><path d="M125.80 252.29L127.90 254.39L125.80 256.49L123.70 254.39Z" fill="#0000ff"/><path d="M133.90 241.53L136.00 243.63L133.90 245.73L131.80 243.63Z" fill="#0000ff"/><path d="M133.90 250.75L136.00 252.85L133.90 254.95L131.80 252.85Z" fill="#0000ff"/><path d="M150.09 241.53L152.19 243.63L150.09 245.73L147.99 243.63Z" fill="#0000ff"/><path d="M154.14 238.46L156.24 240.56L154.14 242.66L152.04 240.56Z" fill="#0000ff"/><path d="M154.14 243.07L156.24 245.17L154.14 247.27L152.04 245.17Z" fill="#0000ff"/><path d="M97.47 272.27L99.57 274.37L97.47 276.47L95.37 274.37Z" fill="#ff0000"/><path d="M133.90 249.21L136.00 251.31L133.90 253.41L131.80 251.31Z" fill="#ff0000"/><path d="M141.99 247.68L144.09 249.78L141.99 251.88L139.89 249.78Z" fill="#ff0000"/><rect x="197.16" y="208.32" width="3" height="3" fill="#000"/><line x1="73.18" y1="299.88" x2="154.14" y2="238.71" stroke="#000" stroke-width="1.1"/><text x="72.90" y="298.90" text-anchor="middle" font-size="5.3" fill="#333" stroke="#333" stroke-width="0.25" font-family='"Liberation Sans", sans-serif'>c</text><text x="89.20" y="294.50" text-anchor="middle" font-size="5.3" fill="#333" stroke="#333" stroke-width="0.25" font-family='"Liberation Sans", sans-serif'>e</text><text x="89.80" y="278.50" text-anchor="middle" font-size="5.3" fill="#333" stroke="#333" stroke-width="0.25" font-family='"Liberation Sans", sans-serif'>n</text><text x="105.50" y="273.30" text-anchor="middle" font-size="5.3" fill="#333" stroke="#333" stroke-width="0.25" font-family='"Liberation Sans", sans-serif'>f</text><text x="101.30" y="294.60" text-anchor="middle" font-size="5.3" fill="#333" stroke="#333" stroke-width="0.25" font-family='"Liberation Sans", sans-serif'>d</text><text x="100.80" y="309.90" text-anchor="middle" font-size="5.3" fill="#333" stroke="#333" stroke-width="0.25" font-family='"Liberation Sans", sans-serif'>g</text><text x="123.00" y="258.40" text-anchor="middle" font-size="5.3" fill="#333" stroke="#333" stroke-width="0.25" font-family='"Liberation Sans", sans-serif'>i</text><text x="131.00" y="244.90" text-anchor="middle" font-size="5.3" fill="#333" stroke="#333" stroke-width="0.25" font-family='"Liberation Sans", sans-serif'>j</text><text x="135.80" y="258.80" text-anchor="middle" font-size="5.3" fill="#333" stroke="#333" stroke-width="0.25" font-family='"Liberation Sans", sans-serif'>h</text><text x="150.00" y="249.50" text-anchor="middle" font-size="5.3" fill="#333" stroke="#333" stroke-width="0.25" font-family='"Liberation Sans", sans-serif'>k</text><text x="157.60" y="241.10" text-anchor="middle" font-size="5.3" fill="#333" stroke="#333" stroke-width="0.25" font-family='"Liberation Sans", sans-serif'>m</text><text x="154.50" y="251.30" text-anchor="middle" font-size="5.3" fill="#333" stroke="#333" stroke-width="0.25" font-family='"Liberation Sans", sans-serif'>o</text><text x="97.20" y="271.40" text-anchor="middle" font-size="5.3" fill="#333" stroke="#333" stroke-width="0.25" font-family='"Liberation Sans", sans-serif'>a</text><text x="130.50" y="251.80" text-anchor="middle" font-size="5.3" fill="#333" stroke="#333" stroke-width="0.25" font-family='"Liberation Sans", sans-serif'>b</text><text x="142.00" y="255.60" text-anchor="middle" font-size="5.3" fill="#333" stroke="#333" stroke-width="0.25" font-family='"Liberation Sans", sans-serif'>p</text><text x="198.40" y="204.30" text-anchor="middle" font-size="5.3" fill="#333" stroke="#333" stroke-width="0.25" font-family='"Liberation Sans", sans-serif'>q</text></g>
<g><text transform="translate(232.9,197.1) scale(1.08,1)" font-size="13.8" font-weight="bold" fill="#000" font-family='"Liberation Sans", sans-serif'>(e)</text><rect x="271.8" y="194.5" width="180.90" height="122.85" fill="none" stroke="#111" stroke-width="1"/><line x1="269.20" y1="317.35" x2="271.8" y2="317.35" stroke="#111" stroke-width="1"/><text x="266.60" y="320.05" text-anchor="end" font-size="6.5" fill="#111" stroke="#111" stroke-width="0.18" font-family='"Liberation Sans", sans-serif'>-0.10</text><line x1="269.20" y1="296.88" x2="271.8" y2="296.88" stroke="#111" stroke-width="1"/><text x="266.60" y="299.57" text-anchor="end" font-size="6.5" fill="#111" stroke="#111" stroke-width="0.18" font-family='"Liberation Sans", sans-serif'>0.10</text><line x1="269.20" y1="276.40" x2="271.8" y2="276.40" stroke="#111" stroke-width="1"/><text x="266.60" y="279.10" text-anchor="end" font-size="6.5" fill="#111" stroke="#111" stroke-width="0.18" font-family='"Liberation Sans", sans-serif'>0.30</text><line x1="269.20" y1="255.93" x2="271.8" y2="255.93" stroke="#111" stroke-width="1"/><text x="266.60" y="258.62" text-anchor="end" font-size="6.5" fill="#111" stroke="#111" stroke-width="0.18" font-family='"Liberation Sans", sans-serif'>0.50</text><line x1="269.20" y1="235.45" x2="271.8" y2="235.45" stroke="#111" stroke-width="1"/><text x="266.60" y="238.15" text-anchor="end" font-size="6.5" fill="#111" stroke="#111" stroke-width="0.18" font-family='"Liberation Sans", sans-serif'>0.70</text><line x1="269.20" y1="214.98" x2="271.8" y2="214.98" stroke="#111" stroke-width="1"/><text x="266.60" y="217.68" text-anchor="end" font-size="6.5" fill="#111" stroke="#111" stroke-width="0.18" font-family='"Liberation Sans", sans-serif'>0.90</text><line x1="269.20" y1="194.50" x2="271.8" y2="194.50" stroke="#111" stroke-width="1"/><text x="266.60" y="197.20" text-anchor="end" font-size="6.5" fill="#111" stroke="#111" stroke-width="0.18" font-family='"Liberation Sans", sans-serif'>1.10</text><line x1="271.80" y1="317.35" x2="271.80" y2="319.95" stroke="#111" stroke-width="1"/><text x="273.30" y="329.00" text-anchor="middle" font-size="6.5" fill="#111" stroke="#111" stroke-width="0.18" font-family='"Liberation Sans", sans-serif'>0.86</text><line x1="294.41" y1="317.35" x2="294.41" y2="319.95" stroke="#111" stroke-width="1"/><text x="295.91" y="329.00" text-anchor="middle" font-size="6.5" fill="#111" stroke="#111" stroke-width="0.18" font-family='"Liberation Sans", sans-serif'>0.88</text><line x1="317.03" y1="317.35" x2="317.03" y2="319.95" stroke="#111" stroke-width="1"/><text x="318.53" y="329.00" text-anchor="middle" font-size="6.5" fill="#111" stroke="#111" stroke-width="0.18" font-family='"Liberation Sans", sans-serif'>0.90</text><line x1="339.64" y1="317.35" x2="339.64" y2="319.95" stroke="#111" stroke-width="1"/><text x="341.14" y="329.00" text-anchor="middle" font-size="6.5" fill="#111" stroke="#111" stroke-width="0.18" font-family='"Liberation Sans", sans-serif'>0.92</text><line x1="362.25" y1="317.35" x2="362.25" y2="319.95" stroke="#111" stroke-width="1"/><text x="363.75" y="329.00" text-anchor="middle" font-size="6.5" fill="#111" stroke="#111" stroke-width="0.18" font-family='"Liberation Sans", sans-serif'>0.94</text><line x1="384.86" y1="317.35" x2="384.86" y2="319.95" stroke="#111" stroke-width="1"/><text x="386.36" y="329.00" text-anchor="middle" font-size="6.5" fill="#111" stroke="#111" stroke-width="0.18" font-family='"Liberation Sans", sans-serif'>0.96</text><line x1="407.47" y1="317.35" x2="407.47" y2="319.95" stroke="#111" stroke-width="1"/><text x="408.97" y="329.00" text-anchor="middle" font-size="6.5" fill="#111" stroke="#111" stroke-width="0.18" font-family='"Liberation Sans", sans-serif'>0.98</text><line x1="430.09" y1="317.35" x2="430.09" y2="319.95" stroke="#111" stroke-width="1"/><text x="431.59" y="329.00" text-anchor="middle" font-size="6.5" fill="#111" stroke="#111" stroke-width="0.18" font-family='"Liberation Sans", sans-serif'>1.00</text><line x1="452.70" y1="317.35" x2="452.70" y2="319.95" stroke="#111" stroke-width="1"/><text x="454.20" y="329.00" text-anchor="middle" font-size="6.5" fill="#111" stroke="#111" stroke-width="0.18" font-family='"Liberation Sans", sans-serif'>1.02</text><text x="337.40" y="338.9" textLength="62.6" lengthAdjust="spacingAndGlyphs" font-size="7.7" font-weight="bold" fill="#000" font-family='"Liberation Sans", sans-serif'>Sfc Temperature</text><text transform="translate(248.1,257.0) rotate(-90)" x="-10.95" textLength="21.9" lengthAdjust="spacingAndGlyphs" font-size="7.7" font-weight="bold" fill="#000" font-family='"Liberation Sans", sans-serif'>U 600</text><text x="273.60" y="203.60" font-size="5.1" fill="#222" stroke="#222" stroke-width="0.25" font-family='"Liberation Sans", sans-serif'>R<tspan font-size="3.4" dy="-1.8">2</tspan><tspan dy="1.8"> = 0.55</tspan></text><path d="M294.41 271.23L296.51 273.33L294.41 275.43L292.31 273.33Z" fill="#0000ff"/><path d="M294.41 311.15L296.51 313.25L294.41 315.36L292.31 313.25Z" fill="#0000ff"/><path d="M317.03 247.17L319.13 249.27L317.03 251.37L314.93 249.27Z" fill="#0000ff"/><path d="M328.33 230.28L330.43 232.38L328.33 234.48L326.23 232.38Z" fill="#0000ff"/><path d="M339.64 219.02L341.74 221.12L339.64 223.22L337.54 221.12Z" fill="#0000ff"/><path d="M339.64 249.22L341.74 251.32L339.64 253.42L337.54 251.32Z" fill="#0000ff"/><path d="M350.94 275.84L353.04 277.94L350.94 280.04L348.84 277.94Z" fill="#0000ff"/><path d="M373.56 209.80L375.66 211.90L373.56 214.00L371.46 211.90Z" fill="#0000ff"/><path d="M396.17 214.92L398.27 217.02L396.17 219.12L394.07 217.02Z" fill="#0000ff"/><path d="M396.17 222.09L398.27 224.19L396.17 226.29L394.07 224.19Z" fill="#0000ff"/><path d="M396.17 232.33L398.27 234.43L396.17 236.53L394.07 234.43Z" fill="#0000ff"/><path d="M407.47 223.11L409.57 225.21L407.47 227.31L405.37 225.21Z" fill="#0000ff"/><path d="M418.78 207.76L420.88 209.86L418.78 211.96L416.68 209.86Z" fill="#0000ff"/><path d="M362.25 206.73L364.35 208.83L362.25 210.93L360.15 208.83Z" fill="#ff0000"/><path d="M396.17 207.76L398.27 209.86L396.17 211.96L394.07 209.86Z" fill="#ff0000"/><path d="M430.09 202.64L432.19 204.74L430.09 206.84L427.99 204.74Z" fill="#ff0000"/><line x1="294.41" y1="273.28" x2="418.78" y2="205.39" stroke="#000" stroke-width="1.1"/><text x="294.60" y="281.00" text-anchor="middle" font-size="5.3" fill="#333" stroke="#333" stroke-width="0.25" font-family='"Liberation Sans", sans-serif'>e</text><text x="291.30" y="311.70" text-anchor="middle" font-size="5.3" fill="#333" stroke="#333" stroke-width="0.25" font-family='"Liberation Sans", sans-serif'>f</text><text x="317.00" y="256.50" text-anchor="middle" font-size="5.3" fill="#333" stroke="#333" stroke-width="0.25" font-family='"Liberation Sans", sans-serif'>l</text><text x="328.10" y="240.00" text-anchor="middle" font-size="5.3" fill="#333" stroke="#333" stroke-width="0.25" font-family='"Liberation Sans", sans-serif'>c</text><text x="339.40" y="228.80" text-anchor="middle" font-size="5.3" fill="#333" stroke="#333" stroke-width="0.25" font-family='"Liberation Sans", sans-serif'>m</text><text x="339.40" y="258.30" text-anchor="middle" font-size="5.3" fill="#333" stroke="#333" stroke-width="0.25" font-family='"Liberation Sans", sans-serif'>n</text><text x="351.30" y="285.00" text-anchor="middle" font-size="5.3" fill="#333" stroke="#333" stroke-width="0.25" font-family='"Liberation Sans", sans-serif'>d</text><text x="373.70" y="219.20" text-anchor="middle" font-size="5.3" fill="#333" stroke="#333" stroke-width="0.25" font-family='"Liberation Sans", sans-serif'>g</text><text x="391.20" y="217.80" text-anchor="middle" font-size="5.3" fill="#333" stroke="#333" stroke-width="0.25" font-family='"Liberation Sans", sans-serif'>k</text><text x="399.90" y="227.30" text-anchor="middle" font-size="5.3" fill="#333" stroke="#333" stroke-width="0.25" font-family='"Liberation Sans", sans-serif'>j</text><text x="395.90" y="241.80" text-anchor="middle" font-size="5.3" fill="#333" stroke="#333" stroke-width="0.25" font-family='"Liberation Sans", sans-serif'>i</text><text x="407.20" y="233.10" text-anchor="middle" font-size="5.3" fill="#333" stroke="#333" stroke-width="0.25" font-family='"Liberation Sans", sans-serif'>h</text><text x="419.00" y="217.40" text-anchor="middle" font-size="5.3" fill="#333" stroke="#333" stroke-width="0.25" font-family='"Liberation Sans", sans-serif'>o</text><text x="362.20" y="217.90" text-anchor="middle" font-size="5.3" fill="#333" stroke="#333" stroke-width="0.25" font-family='"Liberation Sans", sans-serif'>a</text><text x="399.50" y="209.80" text-anchor="middle" font-size="5.3" fill="#333" stroke="#333" stroke-width="0.25" font-family='"Liberation Sans", sans-serif'>p</text><text x="429.60" y="202.00" text-anchor="middle" font-size="5.3" fill="#333" stroke="#333" stroke-width="0.25" font-family='"Liberation Sans", sans-serif'>b</text></g>
<g><text transform="translate(459.4,198.0) scale(1.08,1)" font-size="13.8" font-weight="bold" fill="#000" font-family='"Liberation Sans", sans-serif'>(f)</text><rect x="496.0" y="195.2" width="180.50" height="123.10" fill="none" stroke="#111" stroke-width="1"/><line x1="493.40" y1="318.30" x2="496.0" y2="318.30" stroke="#111" stroke-width="1"/><text x="490.80" y="321.00" text-anchor="end" font-size="6.5" fill="#111" stroke="#111" stroke-width="0.18" font-family='"Liberation Sans", sans-serif'>-0.20</text><line x1="493.40" y1="300.71" x2="496.0" y2="300.71" stroke="#111" stroke-width="1"/><text x="490.80" y="303.41" text-anchor="end" font-size="6.5" fill="#111" stroke="#111" stroke-width="0.18" font-family='"Liberation Sans", sans-serif'>0.00</text><line x1="493.40" y1="283.13" x2="496.0" y2="283.13" stroke="#111" stroke-width="1"/><text x="490.80" y="285.83" text-anchor="end" font-size="6.5" fill="#111" stroke="#111" stroke-width="0.18" font-family='"Liberation Sans", sans-serif'>0.20</text><line x1="493.40" y1="265.54" x2="496.0" y2="265.54" stroke="#111" stroke-width="1"/><text x="490.80" y="268.24" text-anchor="end" font-size="6.5" fill="#111" stroke="#111" stroke-width="0.18" font-family='"Liberation Sans", sans-serif'>0.40</text><line x1="493.40" y1="247.96" x2="496.0" y2="247.96" stroke="#111" stroke-width="1"/><text x="490.80" y="250.66" text-anchor="end" font-size="6.5" fill="#111" stroke="#111" stroke-width="0.18" font-family='"Liberation Sans", sans-serif'>0.60</text><line x1="493.40" y1="230.37" x2="496.0" y2="230.37" stroke="#111" stroke-width="1"/><text x="490.80" y="233.07" text-anchor="end" font-size="6.5" fill="#111" stroke="#111" stroke-width="0.18" font-family='"Liberation Sans", sans-serif'>0.80</text><line x1="493.40" y1="212.79" x2="496.0" y2="212.79" stroke="#111" stroke-width="1"/><text x="490.80" y="215.49" text-anchor="end" font-size="6.5" fill="#111" stroke="#111" stroke-width="0.18" font-family='"Liberation Sans", sans-serif'>1.00</text><line x1="493.40" y1="195.20" x2="496.0" y2="195.20" stroke="#111" stroke-width="1"/><text x="490.80" y="197.90" text-anchor="end" font-size="6.5" fill="#111" stroke="#111" stroke-width="0.18" font-family='"Liberation Sans", sans-serif'>1.20</text><line x1="496.00" y1="318.3" x2="496.00" y2="320.90" stroke="#111" stroke-width="1"/><text x="497.50" y="329.00" text-anchor="middle" font-size="6.5" fill="#111" stroke="#111" stroke-width="0.18" font-family='"Liberation Sans", sans-serif'>0.50</text><line x1="526.08" y1="318.3" x2="526.08" y2="320.90" stroke="#111" stroke-width="1"/><text x="527.58" y="329.00" text-anchor="middle" font-size="6.5" fill="#111" stroke="#111" stroke-width="0.18" font-family='"Liberation Sans", sans-serif'>0.60</text><line x1="556.17" y1="318.3" x2="556.17" y2="320.90" stroke="#111" stroke-width="1"/><text x="557.67" y="329.00" text-anchor="middle" font-size="6.5" fill="#111" stroke="#111" stroke-width="0.18" font-family='"Liberation Sans", sans-serif'>0.70</text><line x1="586.25" y1="318.3" x2="586.25" y2="320.90" stroke="#111" stroke-width="1"/><text x="587.75" y="329.00" text-anchor="middle" font-size="6.5" fill="#111" stroke="#111" stroke-width="0.18" font-family='"Liberation Sans", sans-serif'>0.80</text><line x1="616.33" y1="318.3" x2="616.33" y2="320.90" stroke="#111" stroke-width="1"/><text x="617.83" y="329.00" text-anchor="middle" font-size="6.5" fill="#111" stroke="#111" stroke-width="0.18" font-family='"Liberation Sans", sans-serif'>0.90</text><line x1="646.42" y1="318.3" x2="646.42" y2="320.90" stroke="#111" stroke-width="1"/><text x="647.92" y="329.00" text-anchor="middle" font-size="6.5" fill="#111" stroke="#111" stroke-width="0.18" font-family='"Liberation Sans", sans-serif'>1.00</text><line x1="676.50" y1="318.3" x2="676.50" y2="320.90" stroke="#111" stroke-width="1"/><text x="678.00" y="329.00" text-anchor="middle" font-size="6.5" fill="#111" stroke="#111" stroke-width="0.18" font-family='"Liberation Sans", sans-serif'>1.10</text><text x="563.30" y="338.9" textLength="58.2" lengthAdjust="spacingAndGlyphs" font-size="7.7" font-weight="bold" fill="#000" font-family='"Liberation Sans", sans-serif'>Latent heat flux</text><text transform="translate(472.8,257.6) rotate(-90)" x="-10.80" textLength="21.6" lengthAdjust="spacingAndGlyphs" font-size="7.7" font-weight="bold" fill="#000" font-family='"Liberation Sans", sans-serif'>U 600</text><text x="497.60" y="204.50" font-size="5.1" fill="#222" stroke="#222" stroke-width="0.25" font-family='"Liberation Sans", sans-serif'>R<tspan font-size="3.4" dy="-1.8">2</tspan><tspan dy="1.8"> = 0.67</tspan></text><path d="M508.03 303.89L510.13 305.99L508.03 308.09L505.93 305.99Z" fill="#0000ff"/><path d="M577.23 250.25L579.33 252.35L577.23 254.45L575.12 252.35Z" fill="#0000ff"/><path d="M583.24 248.50L585.34 250.59L583.24 252.69L581.14 250.59Z" fill="#0000ff"/><path d="M598.28 236.19L600.38 238.28L598.28 240.38L596.18 238.28Z" fill="#0000ff"/><path d="M604.30 269.60L606.40 271.70L604.30 273.80L602.20 271.70Z" fill="#0000ff"/><path d="M622.35 273.11L624.45 275.21L622.35 277.31L620.25 275.21Z" fill="#0000ff"/><path d="M610.32 228.27L612.42 230.37L610.32 232.47L608.22 230.37Z" fill="#0000ff"/><path d="M616.33 234.43L618.43 236.53L616.33 238.63L614.23 236.53Z" fill="#0000ff"/><path d="M619.34 224.75L621.44 226.85L619.34 228.95L617.24 226.85Z" fill="#0000ff"/><path d="M625.36 227.39L627.46 229.49L625.36 231.59L623.26 229.49Z" fill="#0000ff"/><path d="M637.39 221.24L639.49 223.34L637.39 225.44L635.29 223.34Z" fill="#0000ff"/><path d="M634.38 216.84L636.48 218.94L634.38 221.04L632.28 218.94Z" fill="#0000ff"/><path d="M634.38 214.64L636.48 216.74L634.38 218.84L632.28 216.74Z" fill="#ff0000"/><path d="M637.39 215.08L639.49 217.18L637.39 219.28L635.29 217.18Z" fill="#0000ff"/><path d="M634.38 214.20L636.48 216.30L634.38 218.40L632.28 216.30Z" fill="#ff0000"/><path d="M646.42 210.69L648.52 212.79L646.42 214.89L644.32 212.79Z" fill="#ff0000"/><line x1="508.03" y1="304.41" x2="637.39" y2="222.99" stroke="#000" stroke-width="1.1"/><text x="508.00" y="312.80" text-anchor="middle" font-size="5.3" fill="#333" stroke="#333" stroke-width="0.25" font-family='"Liberation Sans", sans-serif'>f</text><text x="576.90" y="259.10" text-anchor="middle" font-size="5.3" fill="#333" stroke="#333" stroke-width="0.25" font-family='"Liberation Sans", sans-serif'>n</text><text x="583.10" y="256.70" text-anchor="middle" font-size="5.3" fill="#333" stroke="#333" stroke-width="0.25" font-family='"Liberation Sans", sans-serif'>i</text><text x="598.60" y="245.70" text-anchor="middle" font-size="5.3" fill="#333" stroke="#333" stroke-width="0.25" font-family='"Liberation Sans", sans-serif'>l</text><text x="604.30" y="278.80" text-anchor="middle" font-size="5.3" fill="#333" stroke="#333" stroke-width="0.25" font-family='"Liberation Sans", sans-serif'>e</text><text x="622.50" y="283.30" text-anchor="middle" font-size="5.3" fill="#333" stroke="#333" stroke-width="0.25" font-family='"Liberation Sans", sans-serif'>d</text><text x="610.00" y="237.90" text-anchor="middle" font-size="5.3" fill="#333" stroke="#333" stroke-width="0.25" font-family='"Liberation Sans", sans-serif'>h</text><text x="616.20" y="243.60" text-anchor="middle" font-size="5.3" fill="#333" stroke="#333" stroke-width="0.25" font-family='"Liberation Sans", sans-serif'>c</text><text x="619.80" y="233.50" text-anchor="middle" font-size="5.3" fill="#333" stroke="#333" stroke-width="0.25" font-family='"Liberation Sans", sans-serif'>m</text><text x="625.00" y="236.60" text-anchor="middle" font-size="5.3" fill="#333" stroke="#333" stroke-width="0.25" font-family='"Liberation Sans", sans-serif'>j</text><text x="637.60" y="230.90" text-anchor="middle" font-size="5.3" fill="#333" stroke="#333" stroke-width="0.25" font-family='"Liberation Sans", sans-serif'>k</text><text x="631.00" y="223.00" text-anchor="middle" font-size="5.3" fill="#333" stroke="#333" stroke-width="0.25" font-family='"Liberation Sans", sans-serif'>g</text><text x="630.20" y="218.20" text-anchor="middle" font-size="5.3" fill="#333" stroke="#333" stroke-width="0.25" font-family='"Liberation Sans", sans-serif'>p</text><text x="640.70" y="219.90" text-anchor="middle" font-size="5.3" fill="#333" stroke="#333" stroke-width="0.25" font-family='"Liberation Sans", sans-serif'>o</text><text x="632.80" y="213.80" text-anchor="middle" font-size="5.3" fill="#333" stroke="#333" stroke-width="0.25" font-family='"Liberation Sans", sans-serif'>a</text><text x="646.30" y="209.50" text-anchor="middle" font-size="5.3" fill="#333" stroke="#333" stroke-width="0.25" font-family='"Liberation Sans", sans-serif'>b</text></g>
<rect x="34.5" y="343.8" width="224.2" height="106.5" fill="none" stroke="#333" stroke-width="1.4"/>
<text transform="translate(37.6,353.9) scale(0.935,1)" font-size="8.0" font-weight="bold" fill="#000" stroke="#000" stroke-width="0.3" font-family='"Liberation Sans", sans-serif'>Key</text>
<text x="43.9" y="365.80" font-size="7.3" fill="#111" stroke="#111" stroke-width="0.2" font-family='"Liberation Serif", serif'>a</text>
<text x="55.0" y="365.80" font-size="7.32" fill="#111" stroke="#111" stroke-width="0.2" font-family='"Liberation Serif", serif'>NCEP Reanalysis II</text>
<text x="43.9" y="375.85" font-size="7.3" fill="#111" stroke="#111" stroke-width="0.2" font-family='"Liberation Serif", serif'>b</text>
<text x="55.0" y="375.85" font-size="7.32" fill="#111" stroke="#111" stroke-width="0.2" font-family='"Liberation Serif", serif'>ERA Interim</text>
<text x="43.9" y="385.90" font-size="7.3" fill="#111" stroke="#111" stroke-width="0.2" font-family='"Liberation Serif", serif'>c</text>
<text x="55.0" y="385.90" font-size="7.32" fill="#111" stroke="#111" stroke-width="0.2" font-family='"Liberation Serif", serif'>COLA GCM</text>
<text x="43.9" y="395.95" font-size="7.3" fill="#111" stroke="#111" stroke-width="0.2" font-family='"Liberation Serif", serif'>d</text>
<text x="55.0" y="395.95" font-size="7.32" fill="#111" stroke="#111" stroke-width="0.2" font-family='"Liberation Serif", serif'>Cornell/NCAR CAM/CLM3 (dust)</text>
<text x="43.9" y="406.00" font-size="7.3" fill="#111" stroke="#111" stroke-width="0.2" font-family='"Liberation Serif", serif'>e</text>
<text x="55.0" y="406.00" font-size="7.32" fill="#111" stroke="#111" stroke-width="0.2" font-family='"Liberation Serif", serif'>Cornell/NCAR CAM/CLM3 (no dust)</text>
<text x="43.9" y="416.05" font-size="7.3" fill="#111" stroke="#111" stroke-width="0.2" font-family='"Liberation Serif", serif'>f</text>
<text x="55.0" y="416.05" font-size="7.32" fill="#111" stroke="#111" stroke-width="0.2" font-family='"Liberation Serif", serif'>MRI/JMA Japan AGCM</text>
<text x="43.9" y="426.10" font-size="7.3" fill="#111" stroke="#111" stroke-width="0.2" font-family='"Liberation Serif", serif'>g</text>
<text x="55.0" y="426.10" font-size="7.32" fill="#111" stroke="#111" stroke-width="0.2" font-family='"Liberation Serif", serif'>NASA GSFC GMAO/NSIPP1</text>
<text x="43.9" y="436.15" font-size="7.3" fill="#111" stroke="#111" stroke-width="0.2" font-family='"Liberation Serif", serif'>h</text>
<text x="55.0" y="436.15" font-size="7.32" fill="#111" stroke="#111" stroke-width="0.2" font-family='"Liberation Serif", serif'>NASA GSFC FVGCM (aerosol)</text>
<text x="43.9" y="446.20" font-size="7.3" fill="#111" stroke="#111" stroke-width="0.2" font-family='"Liberation Serif", serif'>i</text>
<text x="55.0" y="446.20" font-size="7.32" fill="#111" stroke="#111" stroke-width="0.2" font-family='"Liberation Serif", serif'>NASA GSFC FVGCM (no aerosol)</text>
<text x="182.6" y="365.80" font-size="7.3" fill="#111" stroke="#111" stroke-width="0.2" font-family='"Liberation Serif", serif'>j</text>
<text x="194.7" y="365.80" font-size="7.22" fill="#111" stroke="#111" stroke-width="0.2" font-family='"Liberation Serif", serif'>NCEP CFS</text>
<text x="182.6" y="375.85" font-size="7.3" fill="#111" stroke="#111" stroke-width="0.2" font-family='"Liberation Serif", serif'>k</text>
<text x="194.7" y="375.85" font-size="7.22" fill="#111" stroke="#111" stroke-width="0.2" font-family='"Liberation Serif", serif'>NCEP GFS AGCM</text>
<text x="182.6" y="385.90" font-size="7.3" fill="#111" stroke="#111" stroke-width="0.2" font-family='"Liberation Serif", serif'>l</text>
<text x="194.7" y="385.90" font-size="7.22" fill="#111" stroke="#111" stroke-width="0.2" font-family='"Liberation Serif", serif'>MOHC HadAM3</text>
<text x="182.6" y="395.95" font-size="7.3" fill="#111" stroke="#111" stroke-width="0.2" font-family='"Liberation Serif", serif'>m</text>
<text x="194.7" y="395.95" font-size="7.22" fill="#111" stroke="#111" stroke-width="0.2" font-family='"Liberation Serif", serif'>UCLA AGCM</text>
<text x="182.6" y="406.00" font-size="7.3" fill="#111" stroke="#111" stroke-width="0.2" font-family='"Liberation Serif", serif'>n</text>
<text x="194.7" y="406.00" font-size="7.22" fill="#111" stroke="#111" stroke-width="0.2" font-family='"Liberation Serif", serif'>UCLA MRF GCM</text>
<text x="182.6" y="416.05" font-size="7.3" fill="#111" stroke="#111" stroke-width="0.2" font-family='"Liberation Serif", serif'>o</text>
<text x="194.7" y="416.05" font-size="7.22" fill="#111" stroke="#111" stroke-width="0.2" font-family='"Liberation Serif", serif'>Ensemble mean</text>
<text x="182.6" y="426.10" font-size="7.3" fill="#111" stroke="#111" stroke-width="0.2" font-family='"Liberation Serif", serif'>p</text>
<text x="194.7" y="426.10" font-size="7.22" fill="#111" stroke="#111" stroke-width="0.2" font-family='"Liberation Serif", serif'>NCEP Reanalysis I</text>
<text x="182.6" y="436.15" font-size="7.3" fill="#111" stroke="#111" stroke-width="0.2" font-family='"Liberation Serif", serif'>q</text>
<text x="194.7" y="436.15" font-size="7.22" fill="#111" stroke="#111" stroke-width="0.2" font-family='"Liberation Serif", serif'>ALMIP</text>
</svg>
</body></html>
